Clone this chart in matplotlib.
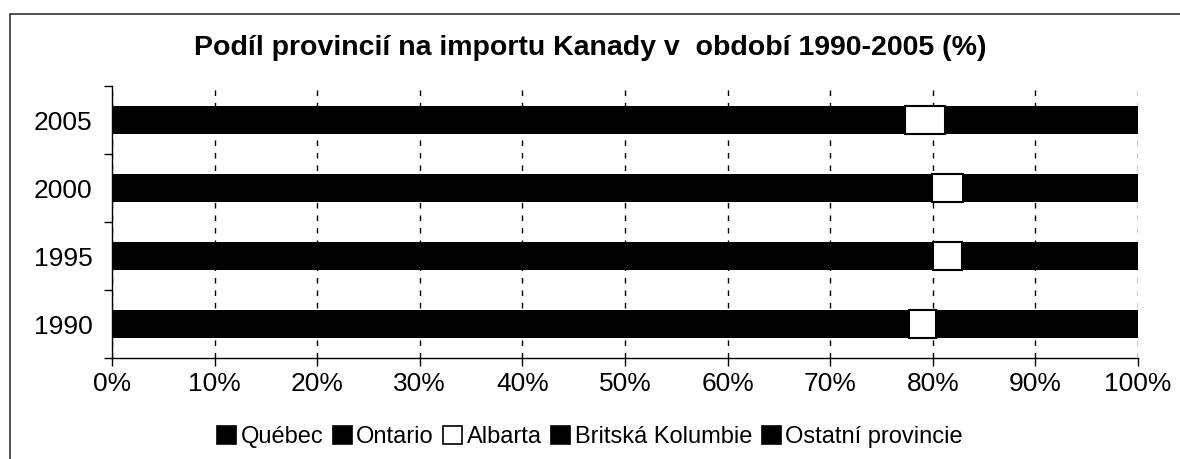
import matplotlib.pyplot as plt
import matplotlib.patches as mpatches
import numpy as np

plt.rcParams['font.family'] = ['Liberation Sans', 'DejaVu Sans']

# Years (bottom to top) and share of each province in Canada's imports (%)
years = ['1990', '1995', '2000', '2005']
quebec = [19.5, 19.2, 18.9, 18.5]
ontario = [58.2, 60.8, 61.0, 58.8]
albarta = [2.6, 2.8, 3.0, 3.9]
bc = [9.7, 8.9, 8.0, 8.7]
ostatni = [10.0, 8.3, 9.1, 10.1]

series = [quebec, ontario, albarta, bc, ostatni]
labels = ['Québec', 'Ontario', 'Albarta', 'Britská Kolumbie', 'Ostatní provincie']
colors = ['black', 'black', 'white', 'black', 'black']

fig = plt.figure(figsize=(11.8, 4.59), dpi=100)
ax = fig.add_axes([0.0949, 0.22, 0.8695, 0.5926])

# outer frame of the chart area (only left/top visible in the reference)
fig.patches.append(mpatches.Rectangle((10 / 1180, -0.1), 1.2, 1 - 14 / 459 + 0.1,
                                      transform=fig.transFigure, fill=False,
                                      edgecolor='#333333', linewidth=1.2))

y = np.arange(len(years))
left = np.zeros(len(years))
for vals, lab, col in zip(series, labels, colors):
    ax.barh(y, vals, left=left, height=0.41, color=col, edgecolor='black',
            linewidth=1.5 if col == 'white' else 0, label=lab, zorder=3)
    left += np.array(vals)

ax.set_xlim(0, 100)
ax.set_ylim(-0.5, len(years) - 0.5)
ax.set_xticks(np.arange(0, 101, 10))
ax.set_xticklabels([f'{v}%' for v in range(0, 101, 10)], fontsize=19)
ax.set_yticks(y)
ax.set_yticklabels(years, fontsize=19)
ax.set_yticks(np.arange(-0.5, len(years)), minor=True)
ax.tick_params(axis='y', which='major', length=0, pad=14)
ax.tick_params(axis='y', which='minor', length=6, direction='out', width=1)
ax.tick_params(axis='x', length=6, direction='out', width=1, pad=4)

ax.grid(axis='x', color='black', linestyle=(0, (4, 5)), linewidth=1, zorder=1)
for s in ['top', 'right']:
    ax.spines[s].set_visible(False)
for s in ['left', 'bottom']:
    ax.spines[s].set_linewidth(1)

fig.text(0.5, 1 - 48 / 459, 'Podíl provincií na importu Kanady v  období 1990-2005 (%)',
         fontsize=20.5, fontweight='bold', ha='center', va='center')

handles = [mpatches.Patch(facecolor=c, edgecolor='black', linewidth=1.2) for c in colors]
fig.legend(handles, labels, loc='center', bbox_to_anchor=(0.5, 0.048), ncol=5,
           frameon=False, fontsize=17, handlelength=0.8, handleheight=0.8,
           handletextpad=0.2, columnspacing=0.4)

fig.savefig('out.png', dpi=100)
